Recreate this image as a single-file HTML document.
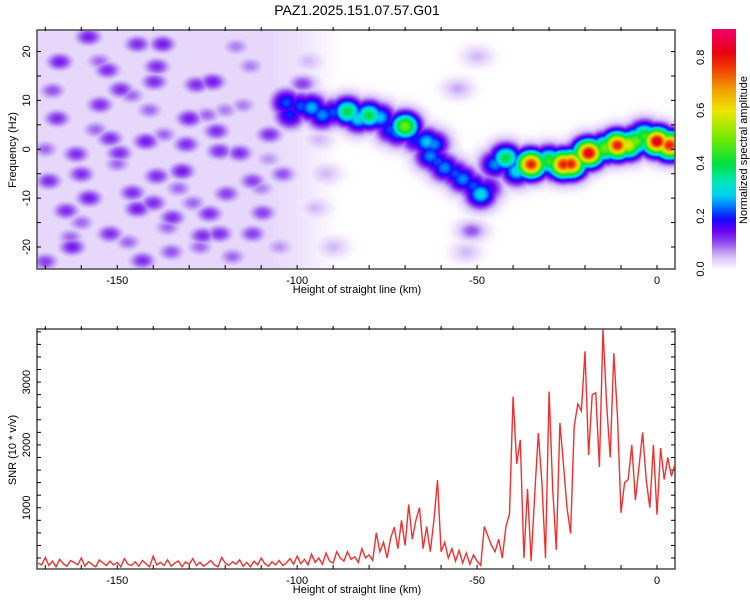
<!DOCTYPE html>
<html><head><meta charset="utf-8"><style>
html,body{margin:0;padding:0;background:#fff;}
#root{position:relative;width:750px;height:600px;overflow:hidden;font-family:"Liberation Sans",sans-serif;}
canvas{position:absolute;}
svg{position:absolute;left:0;top:0;}
</style></head><body>
<div id="root">
<canvas id="spec" width="638" height="239" style="left:37px;top:30px;"></canvas>
<canvas id="cbar" width="24" height="240" style="left:712px;top:29px;"></canvas>
<svg id="svg" width="750" height="600"></svg>
</div>
<script>
// ---- spectrogram data ----
const trackH = [-103,-102,-99,-96,-93,-90,-86,-83,-80,-77,-74,-72,-70,-67,-64,-62,-63,-61,-59,-56,-54,-51,-49,-47,-45,-42,-39,-37,-35,-33,-30,-28,-26,-24,-22,-19,-17,-14.5,-13,-11,-8,-6,-3.5,-1.5,0,2,3.5];
const trackF = [9.5,7,8.8,8.5,7,7.5,7.7,6.3,6.9,6.5,4,3.5,4.7,2,1.5,1,-1.4,-2.5,-3.8,-5,-6.1,-7.5,-9.2,-8,-3.1,-1.8,-4.5,-3.5,-3.1,-3,-2.4,-3.3,-3.1,-3,-1.5,-0.8,-0.3,0.2,0.6,0.8,0.9,1.6,2.7,1.8,1.6,0.8,0.8];
const trackA = [0.22,0.2,0.22,0.27,0.25,0.22,0.4,0.3,0.4,0.28,0.22,0.25,0.5,0.2,0.28,0.25,0.25,0.22,0.25,0.22,0.25,0.22,0.3,0.18,0.25,0.4,0.3,0.3,0.8,0.35,0.45,0.4,0.8,0.8,0.35,0.85,0.4,0.5,0.35,0.8,0.6,0.5,0.45,0.35,0.85,0.4,0.8];
const noiseH = [-166,-152.7,-139,-137.4,-144.4,-158,-149,-139.7,-123.5,-130,-166.7,-152,-149.4,-142,-122.4,-116,-107.7,-132,-139,-160,-157.8,-140,-144.4,-134.7,-164.2,-124.4,-109.6,-126.3,-121.6,-162.5,-143,-128,-98.5,-104,-112.4,-152,-169,-161.4,-154.8,-121.6,-130.8,-112.4,-119.6,-145.8,-55.4,-51.5,-50,-53,-170,-160,-147,-135,-127,-118,-110,-156,-141,-133,-115,-105,-168,-150,-137,-125,-113,-103,-163,-146,-129,-117,-170,-155,-136,-120,-108,-95,-92,-97,-90,-94];
const noiseF = [17.9,16.2,16.9,21.5,21.5,23,12.2,13.8,13.8,6.3,6.3,2.2,-0.8,1.6,3.7,-0.8,3,-4.5,-5.5,-5.1,-10,-11,-12.2,-14,-12.6,-13.2,-13,-17.7,-17.3,-20,-22.8,13.2,13.4,-5.1,-17.3,-17.3,-6.5,-1,9.1,-0.4,1,-6.5,-9.1,-8.9,12.4,-16.7,19,-21,-23,-15,-19,-21,-20,-22,-8,4,8,-8,9,-20,12,-3,3,7,17,5,-18,11,-11,21,0,18,-16,8,-2,-12,-5,18,-20,2];
const noiseA = [0.13,0.12,0.12,0.13,0.12,0.13,0.12,0.12,0.13,0.13,0.12,0.12,0.12,0.13,0.12,0.12,0.12,0.13,0.12,0.12,0.13,0.12,0.13,0.12,0.12,0.12,0.11,0.12,0.12,0.13,0.12,0.12,0.11,0.1,0.11,0.12,0.12,0.12,0.12,0.12,0.12,0.11,0.11,0.12,0.06,0.1,0.05,0.05,0.11,0.09,0.09,0.1,0.09,0.09,0.08,0.09,0.09,0.09,0.08,0.07,0.1,0.09,0.09,0.09,0.08,0.06,0.09,0.09,0.09,0.08,0.09,0.09,0.09,0.08,0.07,0.05,0.05,0.05,0.05,0.05];
const cbTicks = [0.0,0.2,0.4,0.6,0.8];
const xTicks = [-150,-100,-50,0];
const fTicks = [-20,-10,0,10,20];
// ---- SNR data (1 km steps from snrStart) ----
const snrStart = -172;
const snrValues = [120,90,210,80,150,60,180,110,70,160,130,90,200,70,140,100,60,170,120,80,150,90,130,60,190,100,80,140,70,160,110,60,230,90,130,80,170,70,120,150,60,140,100,190,80,130,70,110,160,90,60,210,120,80,140,100,170,70,130,60,150,90,200,110,70,140,90,160,80,120,190,100,
230,110,180,90,260,130,200,100,280,150,120,300,
200,150,300,180,220,130,350,200,250,160,600,300,450,200,520,690,350,800,400,1050,500,800,1000,350,700,300,800,1440,300,450,200,350,150,320,120,280,100,250,
150,80,700,550,400,300,500,200,700,900,
2770,1700,2080,200,1300,150,1200,2190,1400,200,2850,1300,330,2350,1700,1000,590,2300,2650,2540,3490,1840,2800,2830,1650,3840,2650,1800,3460,2480,920,1400,1450,2000,1120,1650,2200,1450,1000,2000,890,1950,1450,1800,1500,1700];
const snrTicks = [1000,2000,3000];

// ---- axes ----
const X0=37,X1=675,HMIN=-172.3,HMAX=5;
const xs = h => X0+(h-HMIN)/(HMAX-HMIN)*(X1-X0);
const T0=30,T1=269,FMAX=24.4,FMIN=-24.5;
const ys = f => T0+(FMAX-f)/(FMAX-FMIN)*(T1-T0);
const B0=329,B1=569,SMAX=3845,SMIN=25;
const ysnr = v => B0+(SMAX-v)/(SMAX-SMIN)*(B1-B0);
const CB0=29,CB1=269,CMAX=0.907;

const stops=[[0,[255,255,255]],[0.015,[240,230,253]],[0.035,[226,210,250]],[0.06,[200,170,245]],[0.09,[160,100,240]],[0.12,[128,40,240]],[0.15,[100,0,245]],[0.19,[20,10,255]],[0.23,[0,100,255]],[0.28,[0,210,240]],[0.33,[0,230,190]],[0.4,[0,224,60]],[0.5,[120,235,0]],[0.6,[240,230,0]],[0.68,[240,160,0]],[0.76,[240,60,0]],[0.82,[232,0,16]],[0.9,[240,0,100]],[1,[240,0,128]]];
function cmap(v){if(v<=0)return stops[0][1];for(let i=1;i<stops.length;i++){if(v<=stops[i][0]){const a=stops[i-1],b=stops[i],t=(v-a[0])/(b[0]-a[0]);return [0,1,2].map(k=>Math.round(a[1][k]+(b[1][k]-a[1][k])*t));}}return stops[stops.length-1][1];}

(function(){
 const cv=document.getElementById('spec'),ctx=cv.getContext('2d');
 const W=cv.width,H=cv.height,img=ctx.createImageData(W,H);
 const blobs=[];
 for(let i=0;i<trackH.length;i++)blobs.push([trackH[i],trackF[i],trackA[i],2.8,1.9]);
 for(let i=0;i<noiseH.length;i++)blobs.push([noiseH[i],noiseF[i],noiseA[i],2.6,1.3]);
 for(let py=0;py<H;py++){
  const f=FMAX-(py+0.5)/H*(FMAX-FMIN);
  for(let px=0;px<W;px++){
   const h=HMIN+(px+0.5)/W*(HMAX-HMIN);
   let v=0;
   if(h<-108)v=0.03;else if(h<-88)v=0.03*(-88-h)/20;
   for(const b of blobs){const dx=(h-b[0])/b[3],dy=(f-b[1])/b[4];const d=dx*dx+dy*dy;if(d>14)continue;const a=b[2]*Math.exp(-d/2);if(a>v)v=a;}
   const c=cmap(v),k=(py*W+px)*4;img.data[k]=c[0];img.data[k+1]=c[1];img.data[k+2]=c[2];img.data[k+3]=255;
  }
 }
 ctx.putImageData(img,0,0);
 const cb=document.getElementById('cbar'),cx=cb.getContext('2d');
 for(let y=0;y<cb.height;y++){const v=CMAX*(1-y/cb.height);const c=cmap(v);cx.fillStyle='rgb('+c+')';cx.fillRect(0,y,24,1);}
})();

const NS='http://www.w3.org/2000/svg',svg=document.getElementById('svg');
function el(t,a,txt){const e=document.createElementNS(NS,t);for(const k in a)e.setAttribute(k,a[k]);if(txt!==undefined)e.textContent=txt;svg.appendChild(e);return e;}
const AX='#555';
let e;
e=el('text',{x:357,y:15,'font-size':14,'text-anchor':'middle',fill:'#000'},'PAZ1.2025.151.07.57.G01');


function frame(top,bot,name){
 const r=el('rect',{x:X0,y:top,width:X1-X0,height:bot-top,fill:'none',stroke:AX,'stroke-width':1.6});
 
 for(let h=-170;h<=0;h+=10){const x=xs(h);
  el('line',{x1:x,x2:x,y1:bot,y2:bot-4,stroke:'#000','stroke-width':1});
  el('line',{x1:x,x2:x,y1:top-3,y2:top+1,stroke:'#000','stroke-width':1});}
 for(const h of xTicks){const t=el('text',{x:xs(h),y:bot+15,'font-size':11,'text-anchor':'middle'},String(h));
  }
 const xl=el('text',{x:357,y:bot+24,'font-size':11,'text-anchor':'middle'},'Height of straight line (km)');
 
}
frame(T0,T1,'spectrogram-frame');
for(let f=-20;f<=20;f+=5){const y=ys(f);
 el('line',{x1:X0,x2:X0+4,y1:y,y2:y,stroke:'#000'});el('line',{x1:X1-4,x2:X1,y1:y,y2:y,stroke:'#000'});}
for(const f of fTicks){const y=ys(f);const t=el('text',{x:0,y:0,'font-size':11,'text-anchor':'middle',transform:`translate(30,${y}) rotate(-90)`},String(f));
 }
e=el('text',{x:0,y:0,'font-size':11,'text-anchor':'middle',transform:'translate(16,150) rotate(-90)'},'Frequency (Hz)');

for(const v of cbTicks){const y=CB1-(v/CMAX)*(CB1-CB0);const t=el('text',{x:0,y:0,'font-size':11,'text-anchor':'middle',transform:`translate(704,${y}) rotate(-90)`},v.toFixed(1));
 }
e=el('text',{x:0,y:0,'font-size':11,'text-anchor':'middle',transform:'translate(747,150) rotate(-90)'},'Normalized spectral amplitude');


frame(B0,B1,'snr-frame');
for(let v=200;v<=3800;v+=200){const y=ysnr(v);
 el('line',{x1:X0,x2:X0+4,y1:y,y2:y,stroke:'#000'});el('line',{x1:X1-4,x2:X1,y1:y,y2:y,stroke:'#000'});}
for(const v of snrTicks){const t=el('text',{x:0,y:0,'font-size':11,'text-anchor':'middle',transform:`translate(30,${ysnr(v)}) rotate(-90)`},String(v));
 }
e=el('text',{x:0,y:0,'font-size':11,'text-anchor':'middle',transform:'translate(16,450) rotate(-90)'},'SNR (10 * v/v)');

let d='';
snrValues.forEach((v,i)=>{const h=snrStart+i;if(h>HMAX)return;d+=(i?'L':'M')+xs(h).toFixed(1)+','+ysnr(v).toFixed(1);});
e=el('path',{d:d,fill:'none',stroke:'#f03030','stroke-width':1.4});

</script>
</body></html>
